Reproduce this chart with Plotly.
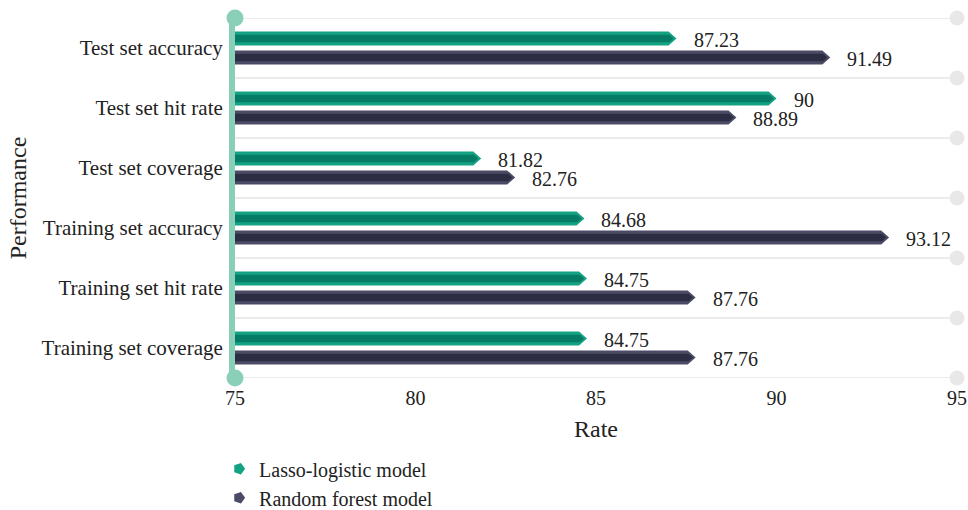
import plotly.graph_objects as go

# Performance metrics of the two models (percent)
categories = ["Test set accuracy", "Test set hit rate", "Test set coverage",
              "Training set accuracy", "Training set hit rate", "Training set coverage"]
lasso_values = [87.23, 90, 81.82, 84.68, 84.75, 84.75]
forest_values = [91.49, 88.89, 82.76, 93.12, 87.76, 87.76]
series_names = ["Lasso-logistic model", "Random forest model"]
x_ticks = [75, 80, 85, 90, 95]

X_MIN, X_MAX = 75, 95
FONT = "Liberation Serif"

# colour pairs: (outer, inner stripe)
green = ("#13a383", "#067c66")
navy = ("#4b4b66", "#2c2c42")
axis_teal = "#8ad0b9"
grid_grey = "#ebebeb"

OFFSET = 0.158      # vertical offset of each bar from its category centre
HALF_OUT = 0.118    # half thickness of the bar
HALF_IN = 0.062     # half thickness of the darker stripe
TIP = 0.22          # length of the arrow tip (x units)


def arrow_polygons(values, offset, half, tip):
    xs, ys = [], []
    for i, v in enumerate(values):
        yc = i + offset
        xs += [X_MIN, v - tip, v, v - tip, X_MIN, X_MIN, None]
        ys += [yc - half, yc - half, yc, yc + half, yc + half, yc - half, None]
    return xs, ys


fig = go.Figure()

# horizontal separators with end dots on the right
n = len(categories)
bounds = [k - 0.5 for k in range(n + 1)]
gx, gy = [], []
for b in bounds:
    gx += [X_MIN, X_MAX, None]
    gy += [b, b, None]
fig.add_trace(go.Scatter(x=gx, y=gy, mode="lines", line=dict(color=grid_grey, width=2),
                         hoverinfo="skip", showlegend=False))
fig.add_trace(go.Scatter(x=[X_MAX] * len(bounds), y=bounds, mode="markers",
                         marker=dict(size=15, color="#e8e8e8"), cliponaxis=False,
                         hoverinfo="skip", showlegend=False))

for vals, off, (outer, inner) in [(lasso_values, -OFFSET, green), (forest_values, OFFSET, navy)]:
    xo, yo = arrow_polygons(vals, off, HALF_OUT, TIP)
    fig.add_trace(go.Scatter(x=xo, y=yo, mode="lines", fill="toself", fillcolor=outer,
                             line=dict(width=0, color=outer), hoverinfo="skip", showlegend=False))
    xi, yi = arrow_polygons([v - 0.08 for v in vals], off, HALF_IN, TIP * HALF_IN / HALF_OUT)
    fig.add_trace(go.Scatter(x=xi, y=yi, mode="lines", fill="toself", fillcolor=inner,
                             line=dict(width=0, color=inner), hoverinfo="skip", showlegend=False))

# end dots of the left axis line
fig.add_trace(go.Scatter(x=[X_MIN, X_MIN], y=[bounds[0], bounds[-1]], mode="markers",
                         marker=dict(size=17, color=axis_teal), cliponaxis=False,
                         hoverinfo="skip", showlegend=False))

# value labels
for i, v in enumerate(lasso_values):
    fig.add_annotation(x=v, y=i - OFFSET, text=f"{v:g}", showarrow=False, xanchor="left",
                       xshift=15, yshift=-1, font=dict(family=FONT, size=20, color="#222"))
for i, v in enumerate(forest_values):
    fig.add_annotation(x=v, y=i + OFFSET, text=f"{v:g}", showarrow=False, xanchor="left",
                       xshift=15, yshift=-2, font=dict(family=FONT, size=20, color="#222"))

# legend entries
for name, (outer, inner) in zip(series_names, [green, navy]):
    fig.add_trace(go.Scatter(x=[None], y=[None], mode="markers", name=name,
                             marker=dict(symbol="pentagon", angle=90, size=12, color=outer)))

fig.update_layout(
    width=968, height=510,
    margin=dict(l=235, r=11, t=18, b=132),
    paper_bgcolor="white", plot_bgcolor="white",
    font=dict(family=FONT, size=20, color="#222"),
    xaxis=dict(range=[X_MIN, X_MAX], tickvals=x_ticks, showgrid=False, zeroline=False,
               showline=False, ticks="", ticklabelstandoff=6, ticklabeloverflow="allow",
               title=dict(text="Rate", standoff=12),
               tickfont=dict(size=20), automargin=False),
    yaxis=dict(range=[n - 0.5, -0.5], tickvals=list(range(n)), ticktext=categories,
               showgrid=False, zeroline=False, showline=True, linecolor=axis_teal,
               linewidth=6, ticks="", ticklabelstandoff=2, automargin=False,
               title=dict(text="Performance", standoff=10), tickfont=dict(size=21)),
    legend=dict(x=-0.022, y=0.119, xref="paper", yref="container",
                xanchor="left", yanchor="top",
                font=dict(family=FONT, size=20), itemsizing="constant"),
    showlegend=True,
)

fig.write_html("out.html")
